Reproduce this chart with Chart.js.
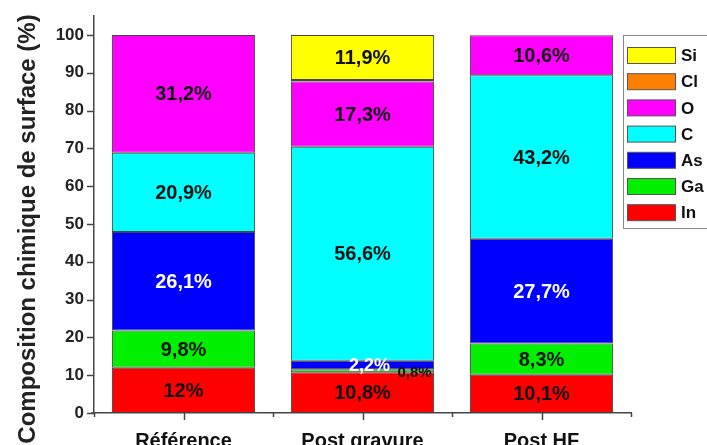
<!DOCTYPE html>
<html><head><meta charset="utf-8">
<script src="https://cdn.jsdelivr.net/npm/chart.js@4.4.0/dist/chart.umd.min.js"></script>
<style>html,body{margin:0;padding:0;background:#fff;}canvas{display:block;}</style>
</head><body>
<canvas id="c" width="707" height="445"></canvas>
<script>
// ---- data ----
const categories = ['Référence', 'Post gravure', 'Post HF'];
const seriesNames = ['In', 'Ga', 'As', 'C', 'O', 'Cl', 'Si'];
const In = [12, 10.8, 10.1];
const Ga = [9.8, 0.8, 8.3];
const As = [26.1, 2.2, 27.7];
const C  = [20.9, 56.6, 43.2];
const O  = [31.2, 17.3, 10.6];
const Cl = [0, 0.4, 0];
const Si = [0, 11.9, 0];
const yTickValues = [0, 10, 20, 30, 40, 50, 60, 70, 80, 90, 100];
const yTitle = 'Composition chimique de surface (%)';

const seriesValues = [In, Ga, As, C, O, Cl, Si];
const seriesColors = ['#ff0000', '#00f000', '#0000ff', '#00ffff', '#ff00ff', '#ff8000', '#ffff00'];
const FONT = '"Liberation Sans", Arial, sans-serif';
const AXIS = '#444';

const fmt = v => String(v).replace('.', ',') + '%';

const labelPlugin = {
  id: 'labels',
  afterDatasetsDraw(chart) {
    const ctx = chart.ctx;
    ctx.save();
    ctx.textAlign = 'center';
    ctx.textBaseline = 'middle';
    chart.data.datasets.forEach((ds, i) => {
      const meta = chart.getDatasetMeta(i);
      meta.data.forEach((el, j) => {
        const v = ds.data[j];
        if (!v || v < 0.5) return;
        let x = el.x, y = (el.y + el.base) / 2;
        let size = 20, color = '#111';
        if (ds.label === 'As') color = '#ffffff';
        if (v < 1) { x += 52; size = 15; y += 1; }
        else if (v < 3) { x += 7; size = 18; }
        ctx.font = 'bold ' + size + 'px ' + FONT;
        ctx.fillStyle = color;
        ctx.fillText(fmt(v), x, y + 1);
      });
    });
    ctx.restore();
  }
};

const axisPlugin = {
  id: 'axisdeco',
  afterDraw(chart) {
    const ctx = chart.ctx;
    const ys = chart.scales.y, xs = chart.scales.x;
    const ca = chart.chartArea;
    ctx.save();
    ctx.strokeStyle = AXIS;
    ctx.lineWidth = 1.5;
    ys.ticks.forEach(t => {
      const py = Math.round(ys.getPixelForValue(t.value)) + 0.5;
      const len = (t.value % 10 === 0) ? 7 : 4;
      ctx.beginPath();
      ctx.moveTo(ca.left, py);
      ctx.lineTo(ca.left - len, py);
      ctx.stroke();
    });
    ctx.beginPath();
    ctx.moveTo(ca.left - 3, ca.bottom);
    ctx.lineTo(ca.left, ca.bottom);
    ctx.stroke();
    for (let i = 0; i < categories.length; i++) {
      const px = Math.round(xs.getPixelForValue(i)) + 0.5;
      ctx.beginPath();
      ctx.moveTo(px, ca.bottom);
      ctx.lineTo(px, ca.bottom + 7);
      ctx.stroke();
    }
    for (let i = 0; i <= categories.length; i++) {
      const px = Math.round(xs.getPixelForValue(i - 0.5)) + 0.5;
      ctx.beginPath();
      ctx.moveTo(px, ca.bottom);
      ctx.lineTo(px, ca.bottom + 4);
      ctx.stroke();
    }
    ctx.fillStyle = '#222';
    ctx.font = 'bold 24px ' + FONT;
    ctx.textAlign = 'center';
    ctx.textBaseline = 'middle';
    ctx.translate(28, 229);
    ctx.rotate(-Math.PI / 2);
    ctx.fillText(yTitle, 0, 0);
    ctx.restore();
  }
};

const legendPlugin = {
  id: 'boxlegend',
  afterDraw(chart) {
    const ctx = chart.ctx;
    ctx.save();
    ctx.strokeStyle = '#888';
    ctx.lineWidth = 1;
    ctx.fillStyle = '#fff';
    ctx.fillRect(623.5, 35.5, 100, 193);
    ctx.strokeRect(623.5, 35.5, 100, 193);
    const ds = chart.data.datasets.slice().reverse();
    ds.forEach((d, k) => {
      const cy = 55.5 + k * 26.2;
      ctx.fillStyle = d.backgroundColor;
      ctx.fillRect(627.5, cy - 8, 48, 16);
      ctx.strokeStyle = '#555';
      ctx.strokeRect(627.5, cy - 8, 48, 16);
      ctx.fillStyle = '#111';
      ctx.font = 'bold 17px ' + FONT;
      ctx.textAlign = 'left';
      ctx.textBaseline = 'middle';
      ctx.fillText(d.label, 681, cy + 1);
    });
    ctx.restore();
  }
};

new Chart(document.getElementById('c'), {
  type: 'bar',
  data: {
    labels: categories,
    datasets: seriesNames.map((n, i) => ({
      label: n,
      data: seriesValues[i],
      backgroundColor: seriesColors[i],
      borderColor: '#444',
      borderWidth: 1,
      borderSkipped: false,
      barPercentage: 0.8,
      categoryPercentage: 1.0
    }))
  },
  options: {
    responsive: false,
    animation: false,
    devicePixelRatio: 1,
    layout: { padding: { left: 0, right: 76, top: 16, bottom: 0 } },
    plugins: { legend: { display: false }, tooltip: { enabled: false } },
    scales: {
      x: {
        stacked: true,
        offset: true,
        grid: { display: false },
        border: { display: true, color: AXIS, width: 1.5 },
        ticks: { font: { family: FONT, size: 20, weight: 'bold' }, color: '#111', padding: 8, maxRotation: 0 },
        afterFit(s) { s.height = 32; }
      },
      y: {
        stacked: true,
        min: 0, max: 105,
        grid: { display: false },
        border: { display: true, color: AXIS, width: 1.5 },
        ticks: {
          stepSize: 5,
          padding: 2,
          color: '#222',
          font: { family: FONT, size: 17, weight: 'bold' },
          callback: v => yTickValues.includes(v) ? String(v) : ''
        },
        afterFit(s) { s.width = 94; }
      }
    }
  },
  plugins: [labelPlugin, axisPlugin, legendPlugin]
});
</script>
</body></html>
